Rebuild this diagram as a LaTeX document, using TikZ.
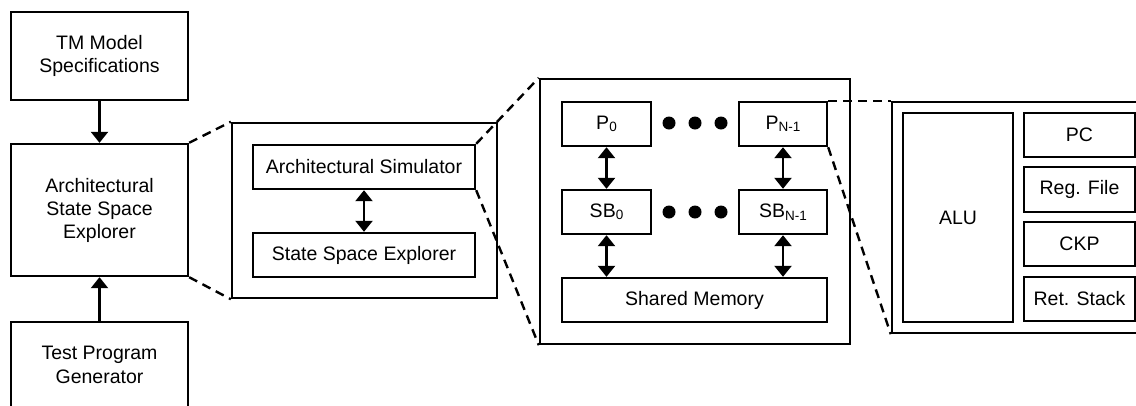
\documentclass[tikz,border=0pt]{standalone}
\usepackage{fontspec}
\setmainfont{Liberation Sans}
\usetikzlibrary{arrows.meta}
\newcommand{\subx}[1]{\raisebox{-2.5pt}{\fontsize{13.5}{13.5}\selectfont #1}}
\begin{document}
\begin{tikzpicture}[x=1pt,y=-1pt,
  box/.style={draw, line width=2.4pt, inner sep=0pt, align=center, font=\fontsize{19.5}{23}\selectfont},
  conn/.style={line width=2.4pt, -{Triangle[width=17pt,length=11pt]}},
  dconn/.style={line width=2.4pt, {Triangle[width=17pt,length=11pt]}-{Triangle[width=17pt,length=11pt]}},
  zoomline/.style={line width=2.4pt, dash pattern=on 9pt off 6pt},
  dotnode/.style={circle, fill, inner sep=0pt, minimum size=13pt}]
\useasboundingbox (0,0) rectangle (1136,405);
\clip (0,0) rectangle (1136,405);
% left column
\node[box, minimum width=177pt, minimum height=88pt] (tm) at (99.5,56) {TM Model\\Specifications};
\node[box, minimum width=177pt, minimum height=132pt] (asse) at (99.5,210) {Architectural\\State Space\\Explorer};
\node[box, minimum width=177pt, minimum height=86pt, font=\fontsize{19.5}{24}\selectfont] (tpg) at (99.5,365) {Test Program\\Generator};
\draw[conn] (tm.south) -- (asse.north);
\draw[conn] (tpg.north) -- (asse.south);
% box 2
\node[box, minimum width=265pt, minimum height=175pt] (b2) at (364.5,210.5) {};
\node[box, minimum width=222pt, minimum height=44pt] (arch) at (364,167) {Architectural Simulator};
\node[box, minimum width=222pt, minimum height=44pt] (sse) at (364,255) {State Space Explorer};
\draw[dconn] (arch.south) -- (sse.north);
% box 3
\node[box, minimum width=310pt, minimum height=265pt] (b3) at (695,211.5) {};
\node[box, minimum width=89pt, minimum height=44pt] (p0) at (606.5,124) {P\subx{0}};
\node[box, minimum width=88pt, minimum height=44pt] (pn) at (783,124) {P\subx{N-1}};
\node[box, minimum width=89pt, minimum height=44pt] (sb0) at (606.5,212) {SB\subx{0}};
\node[box, minimum width=88pt, minimum height=44pt] (sbn) at (783,212) {SB\subx{N-1}};
\node[box, minimum width=265pt, minimum height=44pt] (sm) at (694.5,300) {Shared Memory};
\node[dotnode] (d1) at (669,123) {};
\node[dotnode] (d2) at (695,123) {};
\node[dotnode] (d3) at (721,123) {};
\node[dotnode] (d4) at (669,212) {};
\node[dotnode] (d5) at (695,212) {};
\node[dotnode] (d6) at (721,212) {};
\draw[dconn] (p0.south) -- (sb0.north);
\draw[dconn] (pn.south) -- (sbn.north);
\draw[dconn] (sb0.south) -- (sb0.south |- sm.north);
\draw[dconn] (sbn.south) -- (sbn.south |- sm.north);
% box 4
\node[box, minimum width=256pt, minimum height=231pt] (b4) at (1020,217.5) {};
\node[box, minimum width=110pt, minimum height=209pt] (alu) at (958,217.5) {ALU};
\node[box, minimum width=111pt, minimum height=44pt] (pc) at (1079.5,135) {PC};
\node[box, minimum width=111pt, minimum height=45pt] (reg) at (1079.5,189.5) {Reg. File};
\node[box, minimum width=111pt, minimum height=44pt] (ckp) at (1079.5,244) {CKP};
\node[box, minimum width=111pt, minimum height=44pt] (ret) at (1079.5,299) {Ret. Stack};
% zoom lines
\draw[zoomline] (asse.north east) -- (b2.north west);
\draw[zoomline] (asse.south east) -- (b2.south west);
\draw[zoomline] (arch.north east) -- (b3.north west);
\draw[zoomline] (arch.south east) -- (b3.south west);
\draw[zoomline] (pn.north east) -- (b4.north west);
\draw[zoomline] (pn.south east) -- (b4.south west);
\end{tikzpicture}
\end{document}
